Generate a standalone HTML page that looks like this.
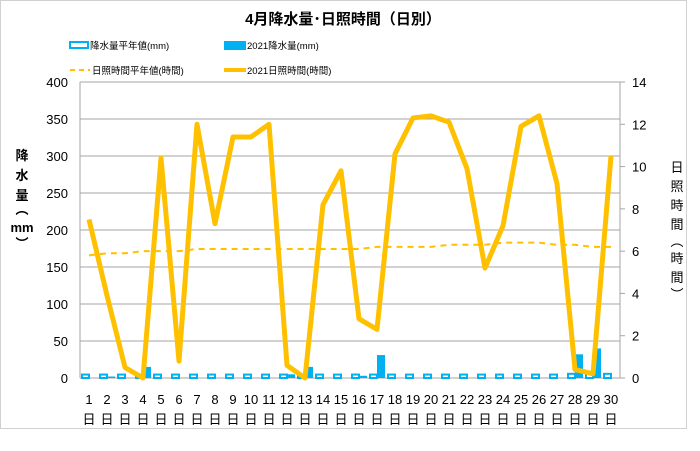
<!DOCTYPE html>
<html><head><meta charset="utf-8"><style>
body{margin:0;background:#fff;}
svg text{font-family:"Liberation Sans","Noto Sans CJK JP",sans-serif;}
</style></head><body>
<svg id="chart" width="700" height="446" xmlns="http://www.w3.org/2000/svg">
<rect x="0.5" y="0.5" width="686" height="428" fill="#fff" stroke="#d0d0d0"/>
<text x="343" y="24" text-anchor="middle" font-size="15" font-weight="bold" fill="#000">4月降水量･日照時間（日別）</text>
<g>
<rect x="70" y="42" width="18" height="6" fill="#fff" stroke="#00b0f0" stroke-width="2"/>
<text x="90" y="49" font-size="9.5">降水量平年値(mm)</text>
<rect x="224" y="41" width="22" height="9" fill="#00b0f0"/>
<text x="247" y="49" font-size="9.5">2021降水量(mm)</text>
<line x1="70" y1="70" x2="90" y2="70" stroke="#ffc000" stroke-width="2" stroke-dasharray="5,4"/>
<text x="92" y="74" font-size="9.5">日照時間平年値(時間)</text>
<line x1="224" y1="70" x2="246" y2="70" stroke="#ffc000" stroke-width="4"/>
<text x="247" y="74" font-size="9.5">2021日照時間(時間)</text>
</g>
<g id="grid"></g><g id="bars"></g><g id="lines"></g><g id="axes"></g>
<text x="22" y="160" font-size="13" font-weight="bold" text-anchor="middle"><tspan x="22" dy="0">降</tspan><tspan x="22" dy="20">水</tspan><tspan x="22" dy="20">量</tspan><tspan x="22" dy="14">︵</tspan><tspan x="22" dy="18">mm</tspan><tspan x="22" dy="16">︶</tspan></text>
<text x="677" y="172" font-size="13" text-anchor="middle"><tspan x="677" dy="0">日</tspan><tspan x="677" dy="19">照</tspan><tspan x="677" dy="19">時</tspan><tspan x="677" dy="19">間</tspan><tspan x="677" dy="17">︵</tspan><tspan x="677" dy="17">時</tspan><tspan x="677" dy="19">間</tspan><tspan x="677" dy="17">︶</tspan></text>
</svg>
<script>
const days=[1,2,3,4,5,6,7,8,9,10,11,12,13,14,15,16,17,18,19,20,21,22,23,24,25,26,27,28,29,30];
const rainNormal=[6,6,6,6,6,6,6,6,6,6,6,6,6,6,6,6,6,6,6,6,6,6,6,6,6,6,6,7,7,7];
const rain2021=[0,2,0,15,0,0,0,0,0,0,0,5,15,0,0,3,31,0,0,0,0,0,0,0,0,0,0,32,40,0];
const sunNormal=[5.8,5.9,5.9,6.0,6.0,6.0,6.1,6.1,6.1,6.1,6.1,6.1,6.1,6.1,6.1,6.1,6.2,6.2,6.2,6.2,6.3,6.3,6.3,6.4,6.4,6.4,6.3,6.3,6.2,6.2];
const sun2021=[7.5,3.9,0.5,0,10.4,0.8,12,7.3,11.4,11.4,12,0.6,0,8.2,9.8,2.8,2.3,10.6,12.3,12.4,12.1,9.9,5.2,7.2,11.9,12.4,9.2,0.4,0.2,10.5];
const leftTicks=[0,50,100,150,200,250,300,350,400];
const rightTicks=[0,2,4,6,8,10,12,14];
const L=80,R=620,T=82,B=378,NS="http://www.w3.org/2000/svg";
const bw=(R-L)/days.length;
const yL=v=>B-(v/400)*(B-T), yR=v=>B-(v/14)*(B-T), xC=i=>L+bw*(i+0.5);
function mk(p,t,a){const e=document.createElementNS(NS,t);for(const k in a)e.setAttribute(k,a[k]);document.getElementById(p).appendChild(e);return e;}
leftTicks.forEach(v=>{const y=yL(v);
 const g=mk('grid','line',{x1:L,y1:y,x2:R,y2:y,stroke:'#a6a6a6','stroke-width':1});
 
 
 const t=mk('axes','text',{x:L-12,y:y+5,'text-anchor':'end','font-size':13});t.textContent=v;
 
 
});
rightTicks.forEach(v=>{const y=yR(v);
 const k=mk('axes','line',{x1:R,y1:y,x2:R+5,y2:y,stroke:'#a6a6a6'});
 
 
 const t=mk('axes','text',{x:R+12,y:y+5,'font-size':13});t.textContent=v;
 
 
});
const al=mk('axes','line',{x1:L,y1:T,x2:L,y2:B,stroke:'#a6a6a6'});


const ar=mk('axes','line',{x1:R,y1:T,x2:R,y2:B,stroke:'#a6a6a6'});


days.forEach((d,i)=>{
 const x0=L+bw*i;
 const h1=B-yL(rainNormal[i]);
 const b1=mk('bars','rect',{x:x0+2,y:B-h1+1,width:bw/2-2,height:h1-1,fill:'#fff',stroke:'#00b0f0','stroke-width':2});
 
 
 if(rain2021[i]>0){const h2=B-yL(rain2021[i]);
  const b2=mk('bars','rect',{x:x0+bw/2,y:B-h2,width:bw/2-1,height:h2,fill:'#00b0f0'});
  
  }
 const t=mk('axes','text',{x:xC(i),y:404,'text-anchor':'middle','font-size':13});t.textContent=d;
 
 
 const t2=mk('axes','text',{x:xC(i),y:424,'text-anchor':'middle','font-size':13});t2.textContent='日';
 
 
});
const pn=mk('lines','polyline',{points:sunNormal.map((v,i)=>xC(i)+','+yR(v)).join(' '),fill:'none',stroke:'#ffc000','stroke-width':2,'stroke-dasharray':'6,5'});


const ps=mk('lines','polyline',{points:sun2021.map((v,i)=>xC(i)+','+yR(v)).join(' '),fill:'none',stroke:'#ffc000','stroke-width':5,'stroke-linejoin':'round'});


</script>
</body></html>
